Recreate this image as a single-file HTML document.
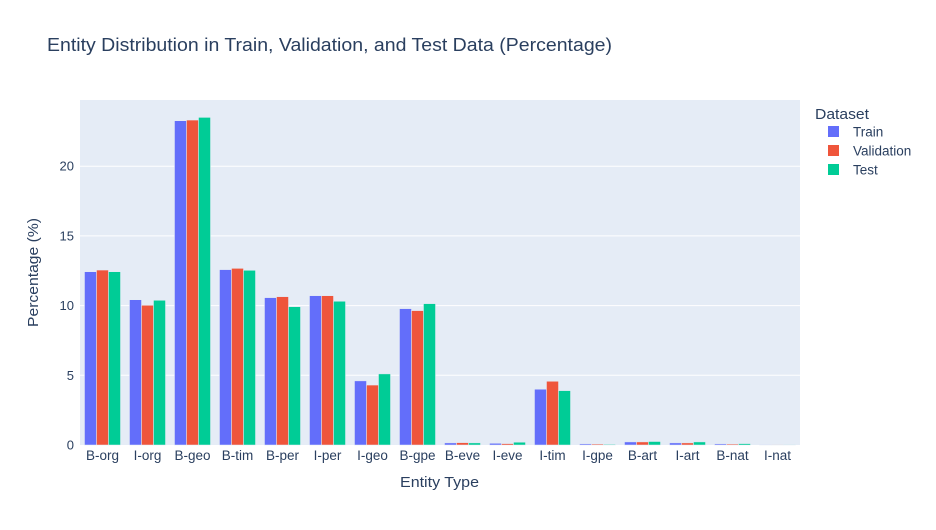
<!DOCTYPE html>
<html><head><meta charset="utf-8"><style>
body{margin:0;background:#fff;font-family:"Liberation Sans",Arial,sans-serif}
svg text{font-family:"Liberation Sans",Arial,sans-serif;fill:#2a3f5f}
</style></head><body>
<svg id="c" width="936" height="525" xmlns="http://www.w3.org/2000/svg">
<rect x="0" y="0" width="936" height="525" fill="#fff"/>
<text x="47" y="51" font-size="18" textLength="565" lengthAdjust="spacingAndGlyphs">Entity Distribution in Train, Validation, and Test Data (Percentage)</text>
<rect x="80" y="100" width="720" height="345" fill="#e5ecf6"/>
<g id="grid"></g><g id="bars"></g><g id="ticks"></g>
<text x="400" y="487" font-size="14.5" textLength="79" lengthAdjust="spacingAndGlyphs">Entity Type</text>
<text transform="translate(38,327) rotate(-90)" font-size="14.5" textLength="109" lengthAdjust="spacingAndGlyphs">Percentage (%)</text>
<g id="legend">
<text x="815" y="119" font-size="15" textLength="54" lengthAdjust="spacingAndGlyphs">Dataset</text>
</g>
</svg>
<script>
const categories=["B-org","I-org","B-geo","B-tim","B-per","I-per","I-geo","B-gpe","B-eve","I-eve","I-tim","I-gpe","B-art","I-art","B-nat","I-nat"];
const train=[12.43,10.42,23.26,12.58,10.57,10.71,4.6,9.78,0.15,0.12,4.0,0.08,0.22,0.15,0.08,0.01];
const validation=[12.55,10.02,23.31,12.67,10.64,10.71,4.3,9.64,0.17,0.10,4.57,0.07,0.22,0.15,0.07,0.01];
const test=[12.43,10.38,23.5,12.53,9.92,10.31,5.1,10.14,0.15,0.2,3.9,0.05,0.25,0.22,0.1,0.01];
const yTicks=[0,5,10,15,20];
const seriesNames=["Train","Validation","Test"];
const colors=["#636efa","#ef553b","#00cc96"];
const NS="http://www.w3.org/2000/svg";
const X0=80,W=720,Y0=445,PPU=13.94;
const y=v=>Y0-v*PPU;
const bw=W/categories.length;
function mk(t,a,p){const e=document.createElementNS(NS,t);for(const k in a)e.setAttribute(k,a[k]);p.appendChild(e);return e;}
const grid=document.getElementById('grid'),bars=document.getElementById('bars'),ticks=document.getElementById('ticks'),leg=document.getElementById('legend');
yTicks.forEach(t=>{
 if(t>0){const l=mk('line',{x1:X0,x2:X0+W,y1:y(t),y2:y(t),stroke:'#fff','stroke-width':1},grid);
 
 }
 const tx=mk('text',{x:X0-6,y:y(t)+4.5,'font-size':13,'text-anchor':'end'},ticks);tx.textContent=t;
 
 
});
const data=[train,validation,test];
categories.forEach((c,i)=>{
 const gx=X0+i*bw+bw*0.1,w=bw*0.8/3;
 data.forEach((s,j)=>{
  const r=mk('rect',{x:gx+j*w,y:y(s[i]),width:w,height:s[i]*PPU,fill:colors[j],stroke:'#e5ecf6','stroke-width':0.5},bars);
  
  
 });
 const tx=mk('text',{x:X0+i*bw+bw/2,y:Y0+15,'font-size':13.5,'text-anchor':'middle'},ticks);tx.textContent=c;
 
 
});
seriesNames.forEach((n,j)=>{
 const yy=132+j*19;
 const r=mk('rect',{x:828,y:yy-6,width:11,height:11,fill:colors[j]},leg);
 
 
 const t=mk('text',{x:853,y:yy+4.5,'font-size':13.5},leg);t.textContent=n;
 
 
});
</script>
</body></html>
